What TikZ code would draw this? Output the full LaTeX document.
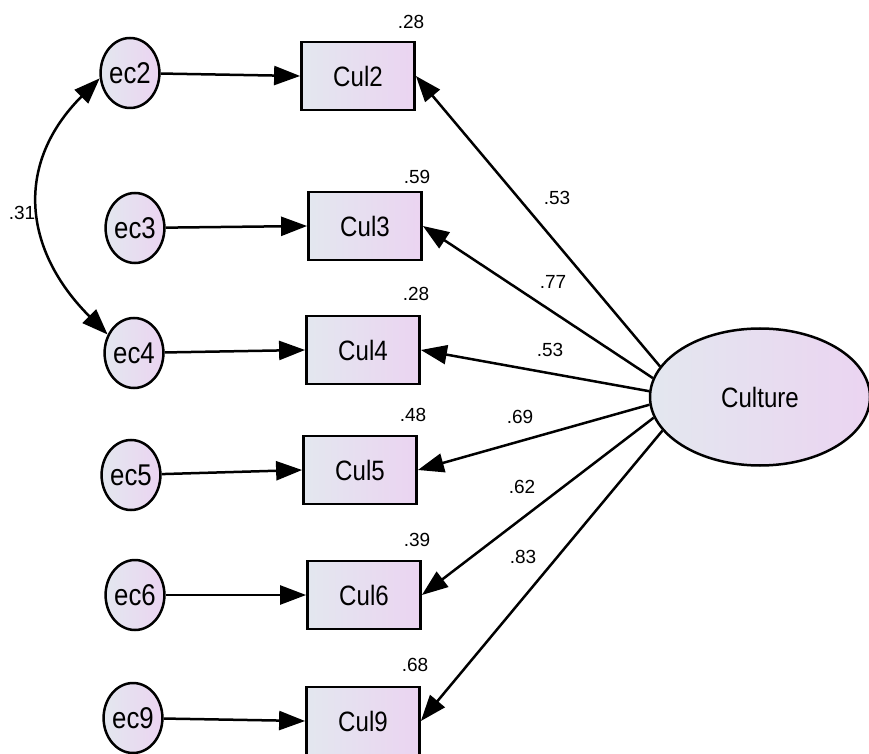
\documentclass[tikz,border=0pt]{standalone}
\usepackage{fontspec}
\setmainfont{Liberation Sans}
\newfontfamily\semfont[FakeStretch=0.86]{Liberation Sans}
\usetikzlibrary{arrows.meta,shapes.geometric}
\definecolor{semleft}{RGB}{227,231,239}
\definecolor{semright}{RGB}{235,212,241}
\tikzset{
  obsbox/.style={draw, line width=2.8pt, minimum width=113pt, minimum height=68pt, inner sep=0pt,
    left color=semleft, right color=semright, font=\semfont\fontsize{28}{32}\selectfont},
  errnode/.style={ellipse, draw, line width=2.5pt, minimum width=55pt, minimum height=70pt, inner sep=0pt,
    left color=semleft, right color=semright, font=\semfont\fontsize{30}{34}\selectfont},
  latnode/.style={ellipse, draw, line width=2.5pt, minimum width=220pt, minimum height=137pt, inner sep=0pt,
    left color=semleft, right color=semright, font=\semfont\fontsize{28}{32}\selectfont},
  semarrow/.style={line width=2.5pt, -{Triangle[length=26pt,width=19pt]}},
  coef/.style={font=\fontsize{19}{22}\selectfont, inner sep=0pt}
}
\begin{document}
\begin{tikzpicture}[x=1pt,y=1pt]
                    \useasboundingbox (0,0) rectangle (869,753);
                    \node[errnode] (ec2) at (130,680) {ec2};
                    \node[errnode] (ec3) at (135,525) {ec3};
                    \node[errnode] (ec4) at (134,400) {ec4};
                    \node[errnode] (ec5) at (131,278) {ec5};
                    \node[errnode] (ec6) at (135,158) {ec6};
                    \node[errnode] (ec9) at (133,35) {ec9};
                    \node[obsbox] (cul2) at (358,677) {Cul2};
                    \node[obsbox] (cul3) at (365,527) {Cul3};
                    \node[obsbox] (cul4) at (363,403) {Cul4};
                    \node[obsbox] (cul5) at (360,283) {Cul5};
                    \node[obsbox] (cul6) at (364,158) {Cul6};
                    \node[obsbox] (cul9) at (363,32) {Cul9};
                    \node[latnode] (culture) at (760,356) {Culture};
                    \node[coef] (r2) at (411,731) {.28};
                    \node[coef] (r3) at (417,576) {.59};
                    \node[coef] (r4) at (416,459) {.28};
                    \node[coef] (r5) at (413,338) {.48};
                    \node[coef] (r6) at (417,213) {.39};
                    \node[coef] (r9) at (415,88) {.68};
                    \draw[semarrow] (ec2) -- (cul2.west);
                    \draw[semarrow] (ec3) -- (cul3.west);
                    \draw[semarrow] (ec4) -- (cul4.west);
                    \draw[semarrow] (ec5) -- (cul5.west);
                    \draw[semarrow] (ec6) -- (cul6.west);
                    \draw[semarrow] (ec9) -- (cul9.west);
                    \draw[semarrow] (culture.163) -- (cul2.east);
                    \draw[semarrow] (culture.170) -- (cul3.east);
                    \draw[semarrow] (culture.177) -- (cul4.east);
                    \draw[semarrow] (culture.184) -- (cul5.east);
                    \draw[semarrow] (culture.191) -- (cul6.east);
                    \draw[semarrow] (culture.199) -- (cul9.east);
                    \node[coef] (l2) at (557,555) {.53};
                    \node[coef] (l3) at (553,471) {.77};
                    \node[coef] (l4) at (550,403) {.53};
                    \node[coef] (l5) at (520,336) {.69};
                    \node[coef] (l6) at (522,266) {.62};
                    \node[coef] (l9) at (523,196) {.83};
                    \draw[line width=2.5pt, {Triangle[length=26pt,width=19pt]}-{Triangle[length=26pt,width=19pt]}]
                      (ec2.190) to[out=225, in=135, looseness=1.2] (ec4.145);
                    \node[coef] (cov) at (22,540) {.31};
                \end{tikzpicture}
\end{document}
